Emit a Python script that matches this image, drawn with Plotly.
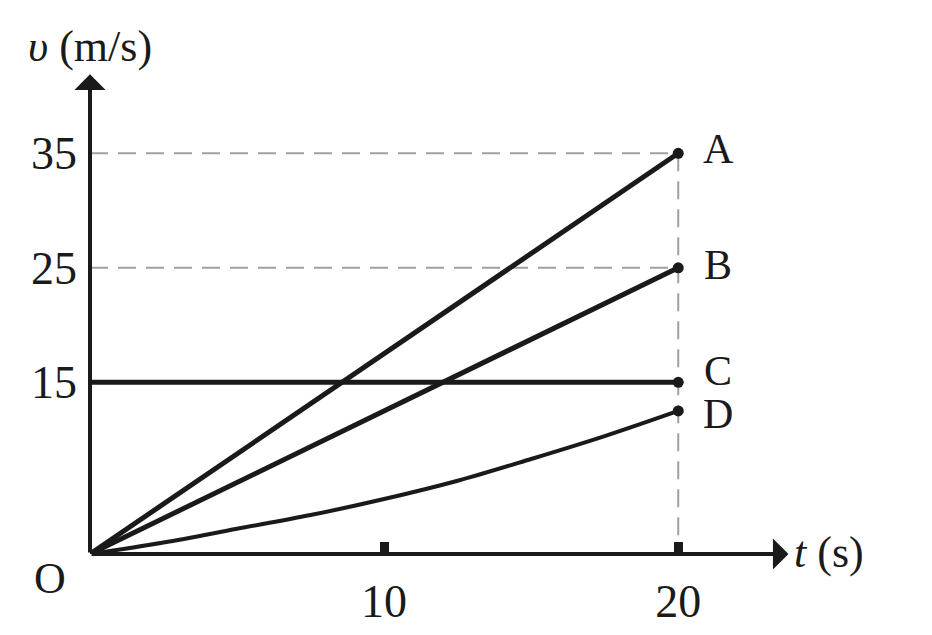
import plotly.graph_objects as go

# velocity-time data
t_line = [0, 20]
v_A = [0, 35]
v_B = [0, 25]
v_C = [15, 15]
t_D = [0, 2.5, 5, 7.5, 10, 12.5, 15, 17.5, 20]
v_D = [0, 1.0, 2.2, 3.4, 4.8, 6.4, 8.3, 10.3, 12.5]
names = ['A', 'B', 'C', 'D']
y_ticks = [15, 25, 35]
x_ticks = [10, 20]

font = "Liberation Serif"
grey = "#a0a0a0"
ink = "#1a1a1a"
x_max = 23.8
y_max = 42.1

fig = go.Figure()

# grey dashed guide lines
dash = dict(color=grey, width=2, dash='18px,10px')
fig.add_trace(go.Scatter(x=[0, t_line[1]], y=[v_A[1], v_A[1]], mode='lines', line=dash, hoverinfo='skip'))
fig.add_trace(go.Scatter(x=[0, t_line[1]], y=[v_B[1], v_B[1]], mode='lines', line=dash, hoverinfo='skip'))
fig.add_trace(go.Scatter(x=[t_line[1], t_line[1]], y=[v_A[1], 0], mode='lines', line=dash, hoverinfo='skip'))

# the four motions
for v in [v_A, v_B, v_C]:
    fig.add_trace(go.Scatter(x=t_line, y=v, mode='lines', line=dict(color=ink, width=5),
                             hoverinfo='skip'))
fig.add_trace(go.Scatter(x=t_D, y=v_D, mode='lines', line=dict(color=ink, width=4, shape='spline'),
                         hoverinfo='skip'))

ends = [v_A[-1], v_B[-1], v_C[-1], v_D[-1]]
fig.add_trace(go.Scatter(x=[t_line[1]] * 4, y=ends, mode='markers',
                         marker=dict(color=ink, size=11), hoverinfo='skip'))

label_shift = {'A': 4, 'B': 3, 'C': 11, 'D': -3}
for name, v in zip(names, ends):
    fig.add_annotation(x=t_line[1], y=v, text=name, showarrow=False, xshift=40,
                       yshift=label_shift[name],
                       font=dict(family=font, size=42, color=ink))

# axes drawn as arrows
fig.add_annotation(x=x_max - 0.05, y=0, ax=0, ay=0, xref='x', yref='y', axref='x', ayref='y',
                   showarrow=True, arrowhead=1, arrowsize=1.3, arrowwidth=4, arrowcolor=ink, text='')
fig.add_annotation(x=0, y=y_max - 0.2, ax=0, ay=0, xref='x', yref='y', axref='x', ayref='y',
                   showarrow=True, arrowhead=1, arrowsize=1.3, arrowwidth=4, arrowcolor=ink, text='')

fig.add_annotation(x=0, y=0, text='O', showarrow=False, xshift=-40, yshift=-24,
                   font=dict(family=font, size=44, color=ink))
fig.add_annotation(x=x_max, y=0, text='<i>t</i> (s)', showarrow=False, xanchor='left', xshift=2, yshift=2,
                   font=dict(family=font, size=44, color=ink))
fig.add_annotation(x=0, y=y_max, text='<i>υ</i> (m/s)', showarrow=False, yshift=26,
                   font=dict(family=font, size=44, color=ink))

fig.update_layout(
    width=932, height=635,
    margin=dict(l=82, r=150, t=64, b=89),
    plot_bgcolor='white', paper_bgcolor='white',
    showlegend=False,
)
fig.update_xaxes(range=[0, x_max], tickvals=x_ticks, ticks='inside', ticklen=12, tickwidth=9,
                 tickcolor=ink, showgrid=False, zeroline=False, showline=False, automargin=False,
                 ticklabelstandoff=16, tickfont=dict(family=font, size=46, color=ink))
fig.update_yaxes(range=[0, y_max], tickvals=y_ticks, ticks='', showgrid=False, zeroline=False,
                 showline=False, ticklabelstandoff=12, automargin=False,
                 tickfont=dict(family=font, size=46, color=ink))

fig.write_html("out.html")
